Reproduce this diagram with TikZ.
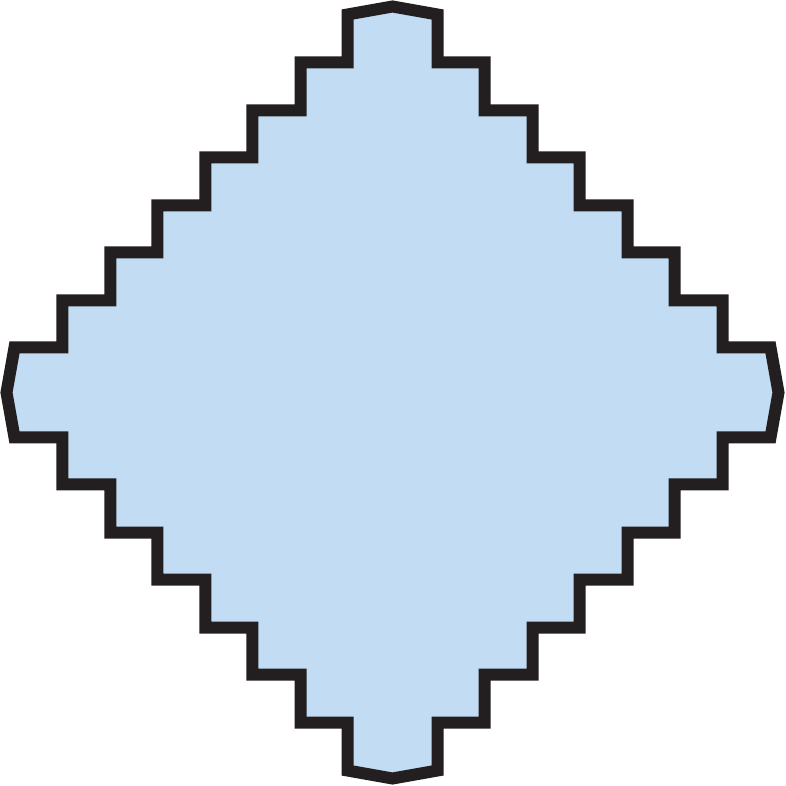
\documentclass[tikz,border=0pt]{standalone}
\usepackage{tikz}

\definecolor{tilefill}{RGB}{193,220,243}
\definecolor{tileline}{RGB}{35,31,32}

\tikzset{
	tile/.style={fill=tilefill, draw=tileline, line width=12pt, line join=miter},
}

\begin{document}
\begin{tikzpicture}[x=1pt, y=1pt]
	% Frame:
	\useasboundingbox (-392.5, -393.5) rectangle (392.5, 392.5);

	% Stepped diamond:
	\draw[tile] (-45, 378) -- (0, 386) -- (45, 378)
		-- (45, 330) -- (92, 330) -- (92, 282) -- (140, 282) -- (140, 235) -- (187, 235)
		-- (187, 187) -- (235, 187) -- (235, 140) -- (282, 140) -- (282, 92) -- (330, 92)
		-- (330, 45) -- (378, 45) -- (386, 0) -- (378, -45)
		-- (330, -45) -- (330, -92) -- (282, -92) -- (282, -140) -- (235, -140) -- (235, -187)
		-- (187, -187) -- (187, -235) -- (140, -235) -- (140, -282) -- (92, -282) -- (92, -330)
		-- (45, -330) -- (45, -378) -- (0, -386) -- (-45, -378)
		-- (-45, -330) -- (-92, -330) -- (-92, -282) -- (-140, -282) -- (-140, -235) -- (-187, -235)
		-- (-187, -187) -- (-235, -187) -- (-235, -140) -- (-282, -140) -- (-282, -92) -- (-330, -92)
		-- (-330, -45) -- (-378, -45) -- (-386, 0) -- (-378, 45)
		-- (-330, 45) -- (-330, 92) -- (-282, 92) -- (-282, 140) -- (-235, 140) -- (-235, 187)
		-- (-187, 187) -- (-187, 235) -- (-140, 235) -- (-140, 282) -- (-92, 282) -- (-92, 330)
		-- (-45, 330) -- cycle;

\end{tikzpicture}
\end{document}
